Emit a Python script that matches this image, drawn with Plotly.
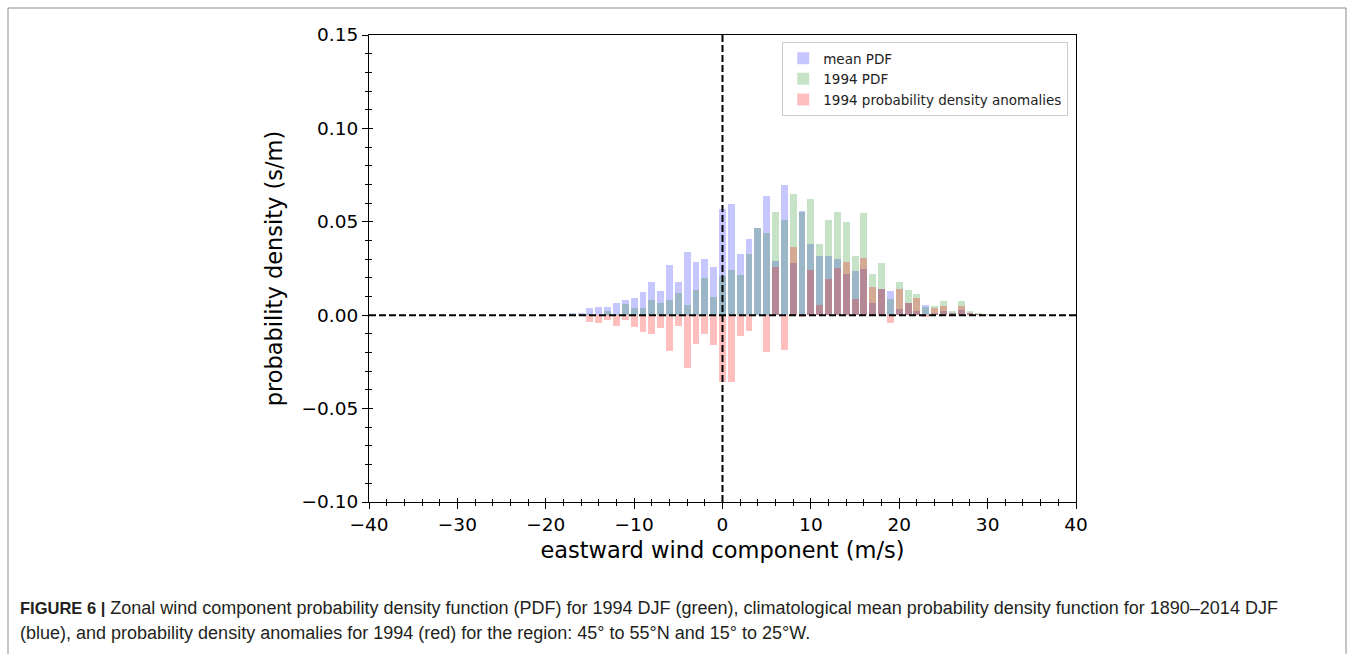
import plotly.graph_objects as go

# wind speed bin centres (m/s)
wind = list(range(-18, 31))

mean_pdf = [0.0005, 0.001, 0.001, 0.004, 0.0042, 0.0046, 0.0064, 0.0081, 0.0094, 0.0123,
            0.018, 0.013, 0.027, 0.018, 0.034, 0.0287, 0.030, 0.0256,
            0.057, 0.0595, 0.033, 0.0408, 0.0468, 0.0638, 0.029, 0.0697, 0.028, 0.056,
            0.038, 0.0317, 0.0317, 0.030, 0.022, 0.0237, 0.0246, 0.0067, 0.014, 0.013,
            0.0033, 0.0068, 0.0025, 0.0055, 0.001, 0.0025, 0.001, 0.0026, 0.001, 0.0005, 0.0003]

pdf_1994 = [0.0, 0.0005, 0.0005, 0.0005, 0.0, 0.0022, 0.0005, 0.0058, 0.0037, 0.0037,
            0.008, 0.0064, 0.008, 0.012, 0.0055, 0.0135, 0.0197, 0.0099,
            0.021, 0.0242, 0.0215, 0.0326, 0.0465, 0.0442, 0.055, 0.051, 0.0649, 0.055,
            0.0622, 0.038, 0.051, 0.055, 0.0497, 0.0317, 0.0545, 0.0222, 0.0278, 0.0087,
            0.018, 0.0135, 0.0113, 0.0045, 0.005, 0.0078, 0.002, 0.0076, 0.002, 0.001, 0.0005]

anom_1994 = [-0.0005, -0.0005, -0.0005, -0.0035, -0.0042, -0.0024, -0.006, -0.0025, -0.0065, -0.009,
             -0.010, -0.007, -0.019, -0.006, -0.028, -0.0156, -0.010, -0.016,
             -0.036, -0.0356, -0.011, -0.0083, 0.0, -0.0195, 0.026, -0.0186, 0.0363, -0.001,
             0.0242, 0.0055, 0.0194, 0.0254, 0.0283, 0.0085, 0.0305, 0.0153, 0.014, -0.0043,
             0.014, 0.0067, 0.009, -0.001, 0.004, 0.005, 0.001, 0.005, 0.001, 0.0005, 0.0002]

series_names = ["mean PDF", "1994 PDF", "1994 probability density anomalies"]

x_ticks = [-40, -30, -20, -10, 0, 10, 20, 30, 40]
y_ticks = [-0.10, -0.05, 0.00, 0.05, 0.10, 0.15]
y_tick_text = ["\u22120.10", "\u22120.05", "0.00", "0.05", "0.10", "0.15"]
x_tick_text = ["\u221240", "\u221230", "\u221220", "\u221210", "0", "10", "20", "30", "40"]

X_RANGE = [-40, 40]
Y_RANGE = [-0.10, 0.15]
FONT = "DejaVu Sans"

fig = go.Figure()
colors = ["rgba(0,0,255,0.22)", "rgba(0,128,0,0.22)", "rgba(255,0,0,0.25)"]
for name, vals, col in zip(series_names, [mean_pdf, pdf_1994, anom_1994], colors):
    fig.add_trace(go.Bar(x=wind, y=vals, name=name, marker=dict(color=col, line=dict(width=0)),
                         width=0.78, legendgroup=name))

# dummy trace for the overlaid (inside tick) axes
fig.add_trace(go.Scatter(x=[None], y=[None], xaxis="x2", yaxis="y2", showlegend=False,
                         hoverinfo="skip"))

tickfont = dict(family=FONT, size=18.5, color="black")
fig.update_layout(
    width=1355, height=654,
    margin=dict(l=369, r=279, t=35, b=152),
    paper_bgcolor="white", plot_bgcolor="white",
    barmode="overlay", bargap=0,
    font=dict(family=FONT, color="black"),
    xaxis=dict(range=X_RANGE, tickvals=x_ticks, ticktext=x_tick_text, tickfont=tickfont,
               ticks="outside", ticklen=6, tickwidth=1, tickcolor="black",
               minor=dict(dtick=2, ticks="outside", ticklen=3, tickwidth=1, tickcolor="black"),
               showline=True, linecolor="black", linewidth=1, mirror=True,
               showgrid=False, zeroline=False,
               title=dict(text="eastward wind component (m/s)", font=dict(family=FONT, size=22.5),
                          standoff=8)),
    yaxis=dict(range=Y_RANGE, tickvals=y_ticks, ticktext=y_tick_text, tickfont=tickfont,
               ticks="outside", ticklen=6, tickwidth=1, tickcolor="black",
               minor=dict(dtick=0.01, ticks="outside", ticklen=3, tickwidth=1, tickcolor="black"),
               showline=True, linecolor="black", linewidth=1, mirror=True,
               showgrid=False, zeroline=False,
               title=dict(text="probability density (s/m)", font=dict(family=FONT, size=22.5),
                          standoff=12)),
    xaxis2=dict(overlaying="x", anchor="y2", side="bottom", range=X_RANGE, tickvals=x_ticks,
                showticklabels=False, ticks="inside", ticklen=4, tickwidth=1, tickcolor="black",
                minor=dict(dtick=2, ticks="inside", ticklen=3, tickwidth=1, tickcolor="black"),
                showline=False, showgrid=False, zeroline=False),
    yaxis2=dict(overlaying="y", anchor="x2", side="left", range=Y_RANGE, tickvals=y_ticks,
                showticklabels=False, ticks="inside", ticklen=4, tickwidth=1, tickcolor="black",
                minor=dict(dtick=0.01, ticks="inside", ticklen=3, tickwidth=1, tickcolor="black"),
                showline=False, showgrid=False, zeroline=False),
    legend=dict(x=0.989, y=0.985, xanchor="right", yanchor="top",
                bgcolor="white", bordercolor="#cccccc", borderwidth=1,
                font=dict(family=FONT, size=13.5, color="#222222"),
                tracegroupgap=4, traceorder="normal", entrywidth=0),
    showlegend=True,
)

# dashed zero lines
fig.add_shape(type="line", xref="paper", yref="y", x0=0, x1=1, y0=0, y1=0,
              line=dict(color="black", width=2, dash="7px,3px"), layer="above")
fig.add_shape(type="line", xref="x", yref="paper", x0=0, x1=0, y0=0, y1=1,
              line=dict(color="black", width=2, dash="7px,3px"), layer="above")

# outer figure frame
fig.add_shape(type="rect", xref="paper", yref="paper", x0=-0.5106, x1=1.3819, y0=-0.345, y1=1.0578,
              line=dict(color="#8c8c8c", width=1), layer="below")

caption1 = ("<b><span style='font-size:16.5px'>FIGURE 6 |</span></b> Zonal wind component probability density function (PDF) for 1994 DJF (green), "
            "climatological mean probability density function for 1890\u20132014 DJF")
caption2 = ("(blue), and probability density anomalies for 1994 (red) for the region: 45\u00b0 to 55\u00b0N "
            "and 15\u00b0 to 25\u00b0W.")
for txt, yp in [(caption1, -0.227), (caption2, -0.2805)]:
    fig.add_annotation(text=txt, xref="paper", yref="paper", x=-0.4965, y=yp,
                       xanchor="left", yanchor="middle", showarrow=False,
                       font=dict(family="Liberation Sans", size=18, color="#231f20"))

fig.write_html("out.html")
